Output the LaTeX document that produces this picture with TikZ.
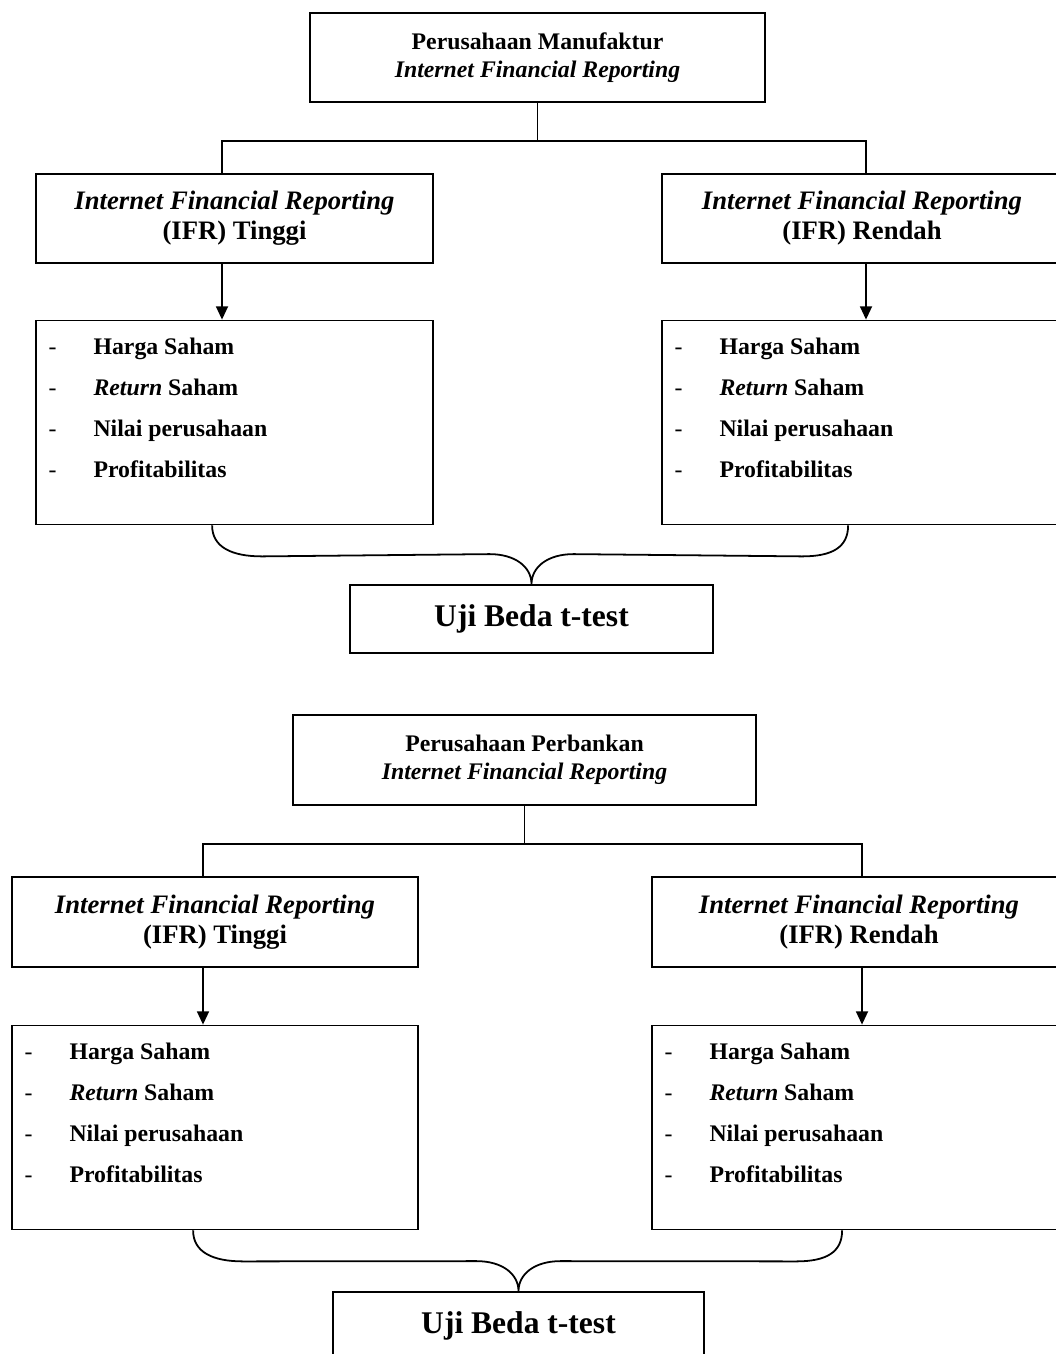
\documentclass[tikz,border=0pt]{standalone}
\usepackage{fontspec}
\setmainfont{Liberation Serif}
\usetikzlibrary{positioning,arrows.meta,calc}

\tikzstyle{block}=[draw, rectangle, line width=0.8pt, align=center, inner sep=0pt]
\tikzstyle{line}=[line width=0.8pt]
\tikzstyle{arrow}=[line width=0.8pt, -{Triangle[length=6pt,width=5.4pt]}]
\tikzstyle{poin}=[anchor=base west, inner sep=0pt, font=\fontsize{10.7}{13}\selectfont\bfseries]

\newcommand{\strip}{\makebox[20.25pt][l]{\mdseries -}}
\newcommand{\daftar}[1]{%
  \node[poin] (#1-1) at ($(#1.north west)+(13,35)$) {\strip Harga Saham};
  \node[poin] (#1-2) at ($(#1.north west)+(13,76)$) {\strip\textit{Return} Saham};
  \node[poin] (#1-3) at ($(#1.north west)+(13,117)$) {\strip Nilai perusahaan};
  \node[poin] (#1-4) at ($(#1.north west)+(13,158)$) {\strip Profitabilitas};
}

\begin{document}
\begin{tikzpicture}[x=0.45pt, y=-0.45pt]

\tikzstyle{top} = [block, font=\fontsize{10.7}{12.6}\selectfont\bfseries, minimum height=40.3pt]
\tikzstyle{ifr} = [block, font=\fontsize{12}{13.5}\selectfont\bfseries, minimum height=40.3pt]
\tikzstyle{list} = [block, minimum height=91.8pt]
\tikzstyle{uji} = [block, font=\fontsize{14.2}{17}\selectfont\bfseries, minimum height=30.6pt]

\useasboundingbox (0,0) rectangle (1056,1354);
\clip (0,0) rectangle (1056,1354);

% Perusahaan manufaktur
\node [top, minimum width=204.75pt] (top1) at (537.5,57.5) {Perusahaan Manufaktur\\\textit{Internet Financial Reporting}};
\node [ifr, minimum width=178.65pt] (ifrT1) at (234.5,218.5) {\textit{Internet Financial Reporting}\\(IFR) Tinggi};
\node [ifr, minimum width=180pt] (ifrR1) at (862,218.5) {\textit{Internet Financial Reporting}\\(IFR) Rendah};
\coordinate (bus1L) at (222,141);
\coordinate (bus1R) at (866,141);
\draw [line] (top1.south) -- (top1.south |- bus1L);
\draw [line] (bus1L |- ifrT1.north) -- (bus1L) -- (bus1R) -- (bus1R |- ifrR1.north);

% indikator
\node [list, minimum width=178.65pt] (listT1) at (234.5,422.5) {};
\node [list, minimum width=180pt] (listR1) at (862,422.5) {};
\daftar{listT1}
\daftar{listR1}
\draw [arrow] (bus1L |- ifrT1.south) -- (bus1L |- listT1.north);
\draw [arrow] (bus1R |- ifrR1.south) -- (bus1R |- listR1.north);

% uji beda
\node [uji, minimum width=163.35pt] (ujiA) at (531.5,619) {Uji Beda t-test};
\coordinate (kurungA1) at ($(listT1.south west)+(177,0)$);
\coordinate (kurungA2) at ($(listR1.south west)+(187,0)$);
\draw [line] (kurungA1) .. controls +(0,22) and +(-30,0) .. ++(50,31)
  -- ($(ujiA.north)+(-42,-30)$) .. controls +(26,0) and +(0,-17) .. (ujiA.north)
  .. controls +(0,-17) and +(-26,0) .. ($(ujiA.north)+(42,-30)$)
  -- ($(kurungA2)+(-46,31)$) .. controls +(30,0) and +(0,22) .. (kurungA2);

% Perusahaan perbankan
\node [top, minimum width=208.35pt] (top2) at (524.5,760) {Perusahaan Perbankan\\\textit{Internet Financial Reporting}};
\node [ifr, minimum width=182.7pt] (ifrT2) at (215,922) {\textit{Internet Financial Reporting}\\(IFR) Tinggi};
\node [ifr, minimum width=186.3pt] (ifrR2) at (859,922) {\textit{Internet Financial Reporting}\\(IFR) Rendah};
\coordinate (bus2L) at (203,844);
\coordinate (bus2R) at (862,844);
\draw [line] (top2.south) -- (top2.south |- bus2L);
\draw [line] (bus2L |- ifrT2.north) -- (bus2L) -- (bus2R) -- (bus2R |- ifrR2.north);

% indikator
\node [list, minimum width=182.7pt] (listT2) at (215,1127.5) {};
\node [list, minimum width=186.3pt] (listR2) at (859,1127.5) {};
\daftar{listT2}
\daftar{listR2}
\draw [arrow] (bus2L |- ifrT2.south) -- (bus2L |- listT2.north);
\draw [arrow] (bus2R |- ifrR2.south) -- (bus2R |- listR2.north);

% uji beda
\node [uji, minimum width=166.95pt] (ujiB) at (518.5,1326) {Uji Beda t-test};
\coordinate (kurungB1) at ($(listT2.south west)+(182,0)$);
\coordinate (kurungB2) at ($(listR2.south west)+(191,0)$);
\draw [line] (kurungB1) .. controls +(0,22) and +(-30,0) .. ++(50,31)
  -- ($(ujiB.north)+(-42,-30)$) .. controls +(26,0) and +(0,-17) .. (ujiB.north)
  .. controls +(0,-17) and +(-26,0) .. ($(ujiB.north)+(42,-30)$)
  -- ($(kurungB2)+(-46,31)$) .. controls +(30,0) and +(0,22) .. (kurungB2);

\end{tikzpicture}
\end{document}
